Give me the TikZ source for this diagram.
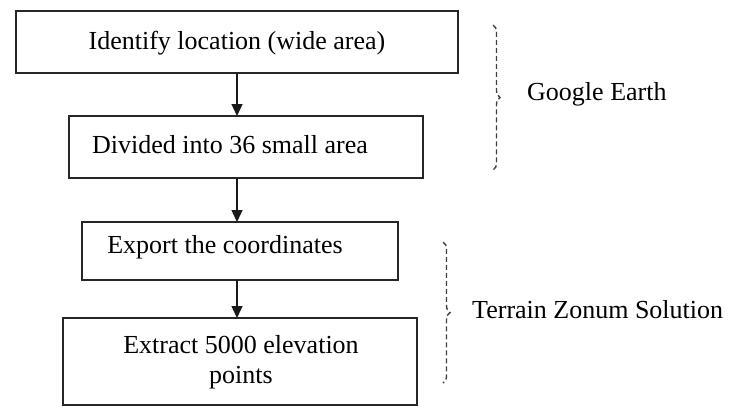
\documentclass[tikz,border=0pt]{standalone}
\usepackage{fontspec}
\setmainfont{Liberation Serif}
\usetikzlibrary{arrows.meta,decorations.pathreplacing}
\begin{document}
\begin{tikzpicture}[x=1pt,y=-1pt,
  stepbox/.style={draw=black!85,line width=1.4pt,inner sep=0pt},
  lbl/.style={font=\fontsize{26}{30}\selectfont,align=center,inner sep=0pt},
  arr/.style={-{Triangle[width=11pt,length=12pt]},line width=1.3pt,black!90},
  brc/.style={draw=black!75,dashed,dash pattern=on 5pt off 3pt,line width=1.4pt,decorate,decoration={brace,amplitude=7pt}}]
\useasboundingbox (0,0) rectangle (730,408);
\node[stepbox,minimum width=442pt,minimum height=62pt] (b1) at (237,42) {};
\node[lbl] (t1) at (237,43) {Identify location (wide area)};
\node[stepbox,minimum width=354pt,minimum height=62pt] (b2) at (246,147) {};
\node[lbl] (t2) at (230,145) {Divided into 36 small area};
\node[stepbox,minimum width=316pt,minimum height=58pt] (b3) at (240,251) {};
\node[lbl] (t3) at (225,247) {Export the coordinates};
\node[stepbox,minimum width=354pt,minimum height=87pt] (b4) at (240,361.5) {};
\node[lbl] (t4) at (241,362) {Extract 5000 elevation\\points};
\draw[arr] (237,73) -- (237,116);
\draw[arr] (237,178) -- (237,222);
\draw[arr] (237,280) -- (237,318);
\coordinate (g1) at (493,25);
\coordinate (g2) at (493,170);
\coordinate (z1) at (443,242);
\coordinate (z2) at (443,383);
\draw[brc] (g1) -- (g2);
\draw[brc] (z1) -- (z2);
\node[lbl,anchor=west] (ge) at (527,94) {Google Earth};
\node[lbl,anchor=west] (tz) at (472,310) {Terrain Zonum Solution};
\end{tikzpicture}
\end{document}
